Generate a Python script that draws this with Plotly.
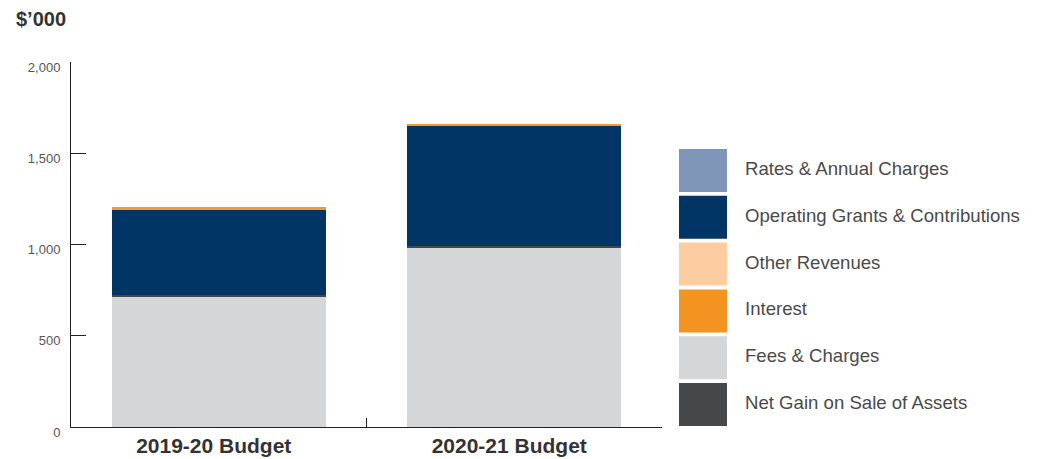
import plotly.graph_objects as go

categories = ["2019-20 Budget", "2020-21 Budget"]

# Series values ($'000), stacked bottom to top as drawn
fees_charges = [716, 985]
net_gain_assets = [5, 5]
operating_grants = [467, 657]
interest = [15, 16]
other_revenues = [0, 0]
rates_annual = [0, 0]

legend_names = ["Rates & Annual Charges", "Operating Grants & Contributions",
                "Other Revenues", "Interest", "Fees & Charges",
                "Net Gain on Sale of Assets"]
legend_colors = ["#7f96b9", "#003566", "#fbcda0", "#f39321", "#d5d6d8", "#464749"]

y_ticks = [0, 500, 1000, 1500, 2000]

series = [
    ("Fees & Charges", fees_charges, "#d5d6d8"),
    ("Net Gain on Sale of Assets", net_gain_assets, "#464749"),
    ("Operating Grants & Contributions", operating_grants, "#003566"),
    ("Interest", interest, "#f39a30"),
    ("Other Revenues", other_revenues, "#fbcda0"),
    ("Rates & Annual Charges", rates_annual, "#7f96b9"),
]

fig = go.Figure()
for name, vals, col in series:
    fig.add_trace(go.Bar(x=categories, y=vals, name=name, width=0.723,
                         marker=dict(color=col, line=dict(width=0)),
                         showlegend=False))

W, H = 1040, 459
ml, mr, mt, mb = 71, 378, 62, 32
pw, ph = W - ml - mr, H - mt - mb

def px2x(px):
    return (px - ml) / pw

def py2y(py):
    return (H - mb - py) / ph

shapes = []
annotations = []
top0, pitch, box_h = 149, 46.8, 43
for i, (nm, col) in enumerate(zip(legend_names, legend_colors)):
    y0 = top0 + i * pitch
    shapes.append(dict(type="rect", xref="paper", yref="paper",
                       x0=px2x(679), x1=px2x(727), y0=py2y(y0 + box_h), y1=py2y(y0),
                       fillcolor=col, line=dict(width=0), layer="above"))
    annotations.append(dict(xref="paper", yref="paper", x=px2x(743),
                            y=py2y(y0 + box_h / 2 - 2),
                            text=nm, showarrow=False, xanchor="left", yanchor="middle",
                            font=dict(family="Liberation Sans, Arial, sans-serif", size=18.6,
                                      color="#4a4a4a")))

annotations.append(dict(xref="paper", yref="paper", x=px2x(14), y=py2y(19),
                        text="<b>$\u2019000</b>", showarrow=False, xanchor="left",
                        yanchor="middle",
                        font=dict(family="Liberation Sans, Arial, sans-serif", size=20,
                                  color="#333333")))

fig.update_layout(
    barmode="stack",
    width=W, height=H,
    margin=dict(l=ml, r=mr, t=mt, b=mb, pad=0, autoexpand=False),
    paper_bgcolor="white", plot_bgcolor="white",
    shapes=shapes, annotations=annotations,
    font=dict(family="Liberation Sans, Arial, sans-serif", color="#444444"),
    xaxis=dict(type="category", range=[-0.5, 1.5], tickson="boundaries",
               ticks="inside", ticklen=9, tickcolor="#222222", tickwidth=1,
               showline=True, linecolor="#222222", linewidth=1, showgrid=False,
               tickfont=dict(family="Liberation Sans, Arial, sans-serif", size=21,
                             color="#333333", weight="bold"),
               ticklabelstandoff=0, ticklabelshift=-5,
               automargin=False, fixedrange=True),
    yaxis=dict(range=[0, 2000], tickvals=y_ticks, tickformat=",",
               ticks="inside", ticklen=15, tickcolor="#222222", tickwidth=1,
               showline=True, linecolor="#222222", linewidth=1, showgrid=False,
               zeroline=False,
               tickfont=dict(family="Liberation Sans, Arial, sans-serif", size=13,
                             color="#555555"),
               ticklabelstandoff=7, ticklabelshift=5,
               automargin=False, fixedrange=True),
)

fig.write_html("out.html", config={"displayModeBar": False})
